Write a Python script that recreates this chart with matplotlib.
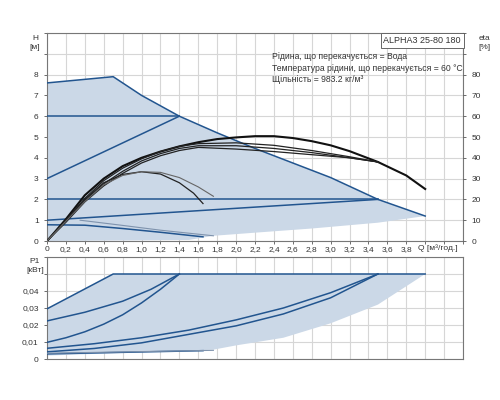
import numpy as np
import matplotlib
matplotlib.use("Agg")
import matplotlib.pyplot as plt

plt.rcParams['font.family'] = ['Liberation Sans', 'DejaVu Sans']

# ---- top chart: head H [m] vs Q [m3/h]
max_q = [0, 0.7, 0.85, 1.0, 1.2, 1.4, 1.8, 2.2, 2.6, 3.0, 3.5, 4.0]
max_h = [7.6, 7.9, 7.45, 7.0, 6.5, 6.0, 5.2, 4.45, 3.75, 3.05, 2.0, 1.2]

low_q = [0, 1.5, 1.76, 2.2, 2.8, 3.5, 4.0]
low_h = [0, 0.05, 0.25, 0.4, 0.6, 0.88, 1.2]

cp_hi_q = [0, 1.4]
cp_hi_h = [6, 6]
pp_hi_q = [0, 1.4]
pp_hi_h = [3, 6]
cp_lo_q = [0, 3.5]
cp_lo_h = [2, 2]
pp_lo_q = [0, 3.5]
pp_lo_h = [1, 2]
min1_q = [0, 0.4, 0.8, 1.2, 1.65]
min1_h = [0.78, 0.76, 0.6, 0.42, 0.2]
min2_q = [0.35, 0.8, 1.2, 1.76]
min2_h = [1.0, 0.75, 0.52, 0.25]

# efficiency curves (read on the eta axis, /10)
eta_big_q = [0, 0.2, 0.4, 0.6, 0.8, 1.0, 1.2, 1.4, 1.6, 1.8, 2.0, 2.2, 2.4, 2.6, 2.8, 3.0, 3.2, 3.5, 3.8, 4.0]
eta_big = [0, 1.05, 2.2, 3.0, 3.6, 4.0, 4.3, 4.55, 4.75, 4.9, 4.98, 5.04, 5.04, 4.95, 4.8, 4.6, 4.32, 3.8, 3.15, 2.5]
eta_m1_q = [0, 0.2, 0.4, 0.6, 0.8, 1.0, 1.2, 1.4, 1.6, 2.0, 2.4, 2.8, 3.2, 3.5]
eta_m1 = [0, 1.0, 2.05, 2.9, 3.5, 3.95, 4.3, 4.55, 4.68, 4.72, 4.6, 4.35, 4.05, 3.8]
eta_m2_q = [0, 0.2, 0.4, 0.6, 0.8, 1.0, 1.2, 1.4, 1.6, 2.0, 2.4, 2.8, 3.2, 3.5]
eta_m2 = [0, 0.95, 1.95, 2.75, 3.35, 3.85, 4.2, 4.45, 4.58, 4.58, 4.45, 4.25, 4.0, 3.8]
eta_m3_q = [0, 0.2, 0.4, 0.6, 0.8, 1.0, 1.2, 1.4, 1.6, 2.0, 2.4, 2.8, 3.2, 3.5]
eta_m3 = [0, 0.9, 1.88, 2.65, 3.25, 3.75, 4.1, 4.35, 4.5, 4.42, 4.3, 4.15, 4.0, 3.8]
eta_s1_q = [0, 0.2, 0.4, 0.6, 0.8, 1.0, 1.2, 1.4, 1.55, 1.65]
eta_s1 = [0, 1.0, 2.0, 2.8, 3.2, 3.33, 3.22, 2.8, 2.3, 1.8]
eta_s2_q = [0, 0.2, 0.4, 0.6, 0.8, 1.0, 1.2, 1.4, 1.6, 1.76]
eta_s2 = [0, 0.95, 1.9, 2.7, 3.15, 3.33, 3.3, 3.05, 2.6, 2.15]

# ---- bottom chart: P1 [kW]
p_max_q = [0, 0.7, 4.0]
p_max = [0.0295, 0.05, 0.05]
p_low_q = [0, 1.76, 2.0, 2.5, 3.0, 3.5, 4.0]
p_low = [0.002, 0.0055, 0.008, 0.0125, 0.021, 0.032, 0.05]
p_a_q = [0, 0.4, 0.8, 1.1, 1.4]
p_a = [0.0224, 0.0275, 0.034, 0.041, 0.05]
p_b_q = [0, 0.2, 0.4, 0.6, 0.8, 1.0, 1.2, 1.4]
p_b = [0.0098, 0.0125, 0.016, 0.0205, 0.026, 0.033, 0.041, 0.05]
p_c_q = [0, 0.5, 1.0, 1.5, 2.0, 2.5, 3.0, 3.5]
p_c = [0.0063, 0.009, 0.0125, 0.017, 0.023, 0.03, 0.039, 0.05]
p_d_q = [0, 0.5, 1.0, 1.5, 2.0, 2.5, 3.0, 3.5]
p_d = [0.0042, 0.0062, 0.0095, 0.0145, 0.0195, 0.0265, 0.036, 0.05]
p_e_q = [0, 1.65]
p_e = [0.003, 0.0049]
p_f_q = [0, 1.76]
p_f = [0.0034, 0.0051]

x_ticks = [round(0.2 * i, 1) for i in range(23)]
x_labels = ['0', '0,2', '0,4', '0,6', '0,8', '1,0', '1,2', '1,4', '1,6', '1,8', '2,0',
            '2,2', '2,4', '2,6', '2,8', '3,0', '3,2', '3,4', '3,6', '3,8', '', '', '']
h_ticks = list(range(11))
h_labels = ['0', '1', '2', '3', '4', '5', '6', '7', '8', '', '']
eta_ticks = list(range(0, 101, 10))
eta_labels = ['0', '10', '20', '30', '40', '50', '60', '70', '80', '', '']
p_ticks = [0, 0.01, 0.02, 0.03, 0.04, 0.05, 0.06]
p_labels = ['0', '0,01', '0,02', '0,03', '0,04', '', '']

blue = '#22558f'
shade = '#cbd8e7'
grid_c = '#d6d6d6'
fs = 6

fig = plt.figure(figsize=(5, 4), dpi=100)
ax = fig.add_axes([0.094, 0.3975, 0.832, 0.52])
axp = fig.add_axes([0.094, 0.1025, 0.832, 0.255])

for a in (ax, axp):
    a.set_xlim(0, 4.4)
    a.set_xticks(x_ticks)
    a.grid(True, color=grid_c, lw=0.8)
    a.set_axisbelow(True)
    for s in a.spines.values():
        s.set_color('#777777')
        s.set_linewidth(0.8)
    a.tick_params(colors='#555555', labelcolor='#333333', labelsize=fs, length=2.5, width=0.6)

# top chart
ax.set_ylim(0, 10)
ax.set_yticks(h_ticks)
ax.set_yticklabels(h_labels)
ax.set_xticklabels(x_labels)
ax.tick_params(axis='x', pad=0.8)

edge_q = np.array(max_q + low_q[::-1])
edge_h = np.array(max_h + low_h[::-1])
ax.fill(edge_q, edge_h, color=shade, lw=0, zorder=1)

for q, h in [(max_q, max_h), (cp_hi_q, cp_hi_h), (pp_hi_q, pp_hi_h), (cp_lo_q, cp_lo_h),
             (pp_lo_q, pp_lo_h), (min1_q, min1_h)]:
    ax.plot(q, h, color=blue, lw=1.1, zorder=3)
ax.plot(min2_q, min2_h, color='#7f93ad', lw=0.8, zorder=3)

ax.plot(eta_big_q, eta_big, color='#111111', lw=1.5, zorder=4)
for q, e in [(eta_m1_q, eta_m1), (eta_m2_q, eta_m2), (eta_m3_q, eta_m3), (eta_s1_q, eta_s1)]:
    ax.plot(q, e, color='#222222', lw=0.9, zorder=4)
ax.plot(eta_s2_q, eta_s2, color='#666666', lw=0.8, zorder=4)

axr = ax.twinx()
axr.set_ylim(0, 100)
axr.set_yticks(eta_ticks)
axr.set_yticklabels(eta_labels)
axr.tick_params(colors='#555555', labelcolor='#333333', labelsize=fs, length=2.5, width=0.6)
for s in axr.spines.values():
    s.set_visible(False)

ax.text(4.34, -0.36, 'Q [м³/год.]', ha='right', va='center', fontsize=fs, color='#333333')
fig.text(0.07, 0.913, 'H\n[м]', ha='center', va='top', fontsize=fs, color='#333333', linespacing=1.4)
fig.text(0.968, 0.913, 'eta\n[%]', ha='center', va='top', fontsize=fs, color='#333333', linespacing=1.4)
ax.text(0.995, 0.985, 'ALPHA3 25-80 180', transform=ax.transAxes, ha='right', va='top',
        fontsize=fs + 0.5, color='#333333',
        bbox=dict(boxstyle='square,pad=0.3', fc='white', ec='#666666', lw=0.7))
ax.text(0.54, 0.91, 'Рідина, що перекачується = Вода\n'
        'Температура рідини, що перекачується = 60 °C\n'
        'Щільність = 983.2 кг/м³', transform=ax.transAxes, ha='left', va='top',
        fontsize=fs + 0.2, color='#333333', linespacing=1.4)

# bottom chart
axp.set_ylim(0, 0.06)
axp.set_yticks(p_ticks)
axp.set_yticklabels(p_labels)
axp.set_xticklabels([])
axp.tick_params(axis='x', length=0)

pq = np.array(p_max_q + p_low_q[::-1])
pv = np.array(p_max + p_low[::-1])
axp.fill(pq, pv, color=shade, lw=0, zorder=1)
for q, p in [(p_max_q, p_max), (p_a_q, p_a), (p_b_q, p_b), (p_c_q, p_c), (p_d_q, p_d), (p_e_q, p_e)]:
    axp.plot(q, p, color=blue, lw=1.1, zorder=3)
axp.plot(p_f_q, p_f, color='#7f93ad', lw=0.8, zorder=3)

fig.text(0.07, 0.355, 'P1\n[кВт]', ha='center', va='top', fontsize=fs, color='#333333', linespacing=1.3)

fig.savefig('out.png', dpi=100)
